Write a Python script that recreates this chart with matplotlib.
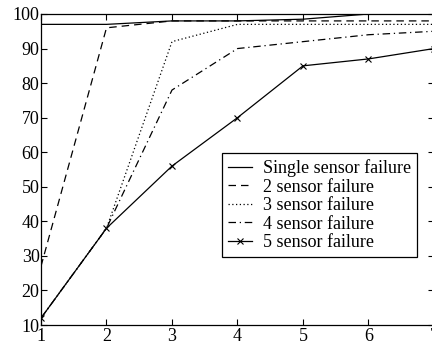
import matplotlib
matplotlib.use("Agg")
import matplotlib.pyplot as plt

x = [1, 2, 3, 4, 5, 6, 7]
single = [97, 97, 98, 98, 98.5, 100, 100]
two = [27, 96, 98, 98, 98, 98, 98]
three = [12, 38, 92, 97, 97, 97, 97]
four = [12, 38, 78, 90, 92, 94, 95]
five = [12, 38, 56, 70, 85, 87, 90]
labels = ["Single sensor failure", "2 sensor failure", "3 sensor failure",
          "4 sensor failure", "5 sensor failure"]
yticks = list(range(10, 101, 10))

plt.rcParams['font.family'] = ['Liberation Serif', 'DejaVu Serif']

fig = plt.figure(figsize=(4.32, 3.42), dpi=100)
ax = fig.add_axes([41/432, 17/342, 393/432, 311/342])

lw = 0.9
ax.plot(x, single, color='black', linestyle='-', linewidth=lw, label=labels[0])
ax.plot(x, two, color='black', linestyle=(0, (6, 4)), linewidth=lw, label=labels[1])
ax.plot(x, three, color='black', linestyle=(0, (1, 2)), linewidth=lw, label=labels[2])
ax.plot(x, four, color='black', linestyle=(0, (6, 3, 1, 3)), linewidth=lw, label=labels[3])
ax.plot(x, five, color='black', linestyle='-', linewidth=lw, marker='x',
        markersize=4, markeredgewidth=0.8, label=labels[4])

ax.set_xlim(1, 7)
ax.set_ylim(10, 100)
ax.set_xticks(x)
ax.set_yticks(yticks)
ax.tick_params(direction='in', top=True, right=True, length=4, width=0.8,
               labelsize=13)
ax.tick_params(axis='y', pad=1)
ax.tick_params(axis='x', pad=2)
for s in ax.spines.values():
    s.set_linewidth(0.9)

leg = ax.legend(loc='upper left', fontsize=13, frameon=True,
                fancybox=False, edgecolor='black', framealpha=1,
                handlelength=1.3, handletextpad=0.6, labelspacing=0.08,
                borderpad=0.35, borderaxespad=0)
leg.get_frame().set_linewidth(0.9)
leg.set_bbox_to_anchor((222/432, 1 - 153/342), transform=fig.transFigure)

fig.savefig("out.png", dpi=100)
